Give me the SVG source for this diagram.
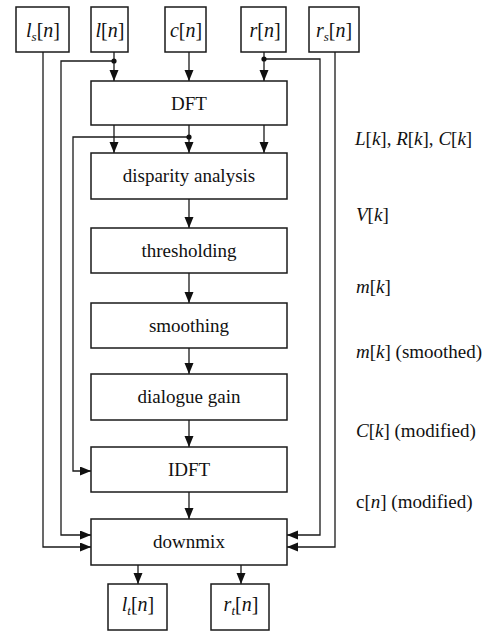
<svg xmlns="http://www.w3.org/2000/svg" width="499" height="631" viewBox="0 0 499 631">
  <style>
    .box { fill: #ffffff; stroke: #1a1a1a; stroke-width: 1.5; }
    .wire { fill: none; stroke: #1a1a1a; stroke-width: 1.3; }
    text { font-family: 'Liberation Serif', 'DejaVu Serif', 'Times New Roman', serif; fill: #111111; }
    .lbl { font-size: 19px; text-anchor: middle; }
    .sig { font-size: 20px; text-anchor: middle; }
    .note { font-size: 19px; }
    .it { font-style: italic; }
    .sub { font-style: italic; font-size: 13px; }
    .dot { fill: #111111; }
  </style>
  <defs>
    <marker id="arrow" markerUnits="userSpaceOnUse" markerWidth="11" markerHeight="10" refX="11" refY="4.5" orient="auto">
      <path d="M0,0 L11,4.5 L0,9 z" fill="#111111"/>
    </marker>
  </defs>

  <rect width="499" height="631" fill="#ffffff"/>

  <!-- connectors -->
  <g id="connectors">
    <!-- surround inputs straight to the downmix -->
    <path class="wire" d="M43,52 V547 H91" marker-end="url(#arrow)"/>
    <path class="wire" d="M335,52 V547 H287" marker-end="url(#arrow)"/>
    <!-- front inputs into the DFT -->
    <path class="wire" d="M114,52 V81" marker-end="url(#arrow)"/>
    <path class="wire" d="M189,52 V81" marker-end="url(#arrow)"/>
    <path class="wire" d="M264,52 V81" marker-end="url(#arrow)"/>
    <!-- l and r branch off to the downmix -->
    <path class="wire" d="M114,61 H61 V535 H91" marker-end="url(#arrow)"/>
    <circle class="dot" cx="114" cy="61" r="2.6"/>
    <path class="wire" d="M264,59 H320 V535 H287" marker-end="url(#arrow)"/>
    <circle class="dot" cx="264" cy="59" r="2.6"/>
    <!-- spectra into the disparity analysis -->
    <path class="wire" d="M114,125 V153" marker-end="url(#arrow)"/>
    <path class="wire" d="M189,125 V153" marker-end="url(#arrow)"/>
    <path class="wire" d="M264,125 V153" marker-end="url(#arrow)"/>
    <!-- C[k] bypass to the IDFT -->
    <path class="wire" d="M189,137 H73 V471 H91" marker-end="url(#arrow)"/>
    <circle class="dot" cx="189" cy="137" r="2.6"/>
    <!-- processing chain -->
    <path class="wire" d="M189,199 V228" marker-end="url(#arrow)"/>
    <path class="wire" d="M189,273 V303" marker-end="url(#arrow)"/>
    <path class="wire" d="M189,348 V374" marker-end="url(#arrow)"/>
    <path class="wire" d="M189,420 V447" marker-end="url(#arrow)"/>
    <path class="wire" d="M189,492 V519" marker-end="url(#arrow)"/>
    <!-- downmix outputs -->
    <path class="wire" d="M138,565 V584" marker-end="url(#arrow)"/>
    <path class="wire" d="M241,565 V584" marker-end="url(#arrow)"/>
  </g>

  <!-- input signals -->
  <g id="in-ls">
    <rect class="box" x="16" y="7" width="53" height="45"/>
    <text class="sig" x="43" y="37" font-family="Liberation Serif, serif"><tspan class="it">l</tspan><tspan class="sub" dy="4">s</tspan><tspan dy="-4">[</tspan><tspan class="it">n</tspan>]</text>
  </g>
  <g id="in-l">
    <rect class="box" x="91" y="7" width="37" height="45"/>
    <text class="sig" x="110" y="37" font-family="Liberation Serif, serif"><tspan class="it">l</tspan>[<tspan class="it">n</tspan>]</text>
  </g>
  <g id="in-c">
    <rect class="box" x="165" y="7" width="41" height="45"/>
    <text class="sig" x="186" y="37" font-family="Liberation Serif, serif"><tspan class="it">c</tspan>[<tspan class="it">n</tspan>]</text>
  </g>
  <g id="in-r">
    <rect class="box" x="241" y="7" width="45" height="45"/>
    <text class="sig" x="265" y="37" font-family="Liberation Serif, serif"><tspan class="it">r</tspan>[<tspan class="it">n</tspan>]</text>
  </g>
  <g id="in-rs">
    <rect class="box" x="309" y="7" width="50" height="45"/>
    <text class="sig" x="334" y="37" font-family="Liberation Serif, serif"><tspan class="it">r</tspan><tspan class="sub" dy="4">s</tspan><tspan dy="-4">[</tspan><tspan class="it">n</tspan>]</text>
  </g>

  <!-- processing blocks -->
  <g id="dft">
    <rect class="box" x="91" y="81" width="196" height="44"/>
    <text class="lbl" x="189" y="110" font-family="Liberation Serif, serif">DFT</text>
  </g>
  <g id="disparity">
    <rect class="box" x="91" y="153" width="196" height="46"/>
    <text class="lbl" x="189" y="182" font-family="Liberation Serif, serif">disparity analysis</text>
  </g>
  <g id="thresholding">
    <rect class="box" x="91" y="228" width="196" height="45"/>
    <text class="lbl" x="189" y="257" font-family="Liberation Serif, serif">thresholding</text>
  </g>
  <g id="smoothing">
    <rect class="box" x="91" y="303" width="196" height="45"/>
    <text class="lbl" x="189" y="332" font-family="Liberation Serif, serif">smoothing</text>
  </g>
  <g id="dialogue-gain">
    <rect class="box" x="91" y="374" width="196" height="46"/>
    <text class="lbl" x="189" y="403" font-family="Liberation Serif, serif">dialogue gain</text>
  </g>
  <g id="idft">
    <rect class="box" x="91" y="447" width="196" height="45"/>
    <text class="lbl" x="189" y="476" font-family="Liberation Serif, serif">IDFT</text>
  </g>
  <g id="downmix">
    <rect class="box" x="91" y="519" width="196" height="46"/>
    <text class="lbl" x="189" y="548" font-family="Liberation Serif, serif">downmix</text>
  </g>

  <!-- output signals -->
  <g id="out-lt">
    <rect class="box" x="108" y="584" width="59" height="46"/>
    <text class="sig" x="138" y="611" font-family="Liberation Serif, serif"><tspan class="it">l</tspan><tspan class="sub" dy="4">t</tspan><tspan dy="-4">[</tspan><tspan class="it">n</tspan>]</text>
  </g>
  <g id="out-rt">
    <rect class="box" x="211" y="584" width="58" height="46"/>
    <text class="sig" x="241" y="611" font-family="Liberation Serif, serif"><tspan class="it">r</tspan><tspan class="sub" dy="4">t</tspan><tspan dy="-4">[</tspan><tspan class="it">n</tspan>]</text>
  </g>

  <!-- signal annotations -->
  <g id="annotations">
    <text class="note" x="355" y="145"><tspan class="it">L</tspan>[<tspan class="it">k</tspan>], <tspan class="it">R</tspan>[<tspan class="it">k</tspan>], <tspan class="it">C</tspan>[<tspan class="it">k</tspan>]</text>
    <text class="note" x="356" y="221"><tspan class="it">V</tspan>[<tspan class="it">k</tspan>]</text>
    <text class="note" x="356" y="293"><tspan class="it">m</tspan>[<tspan class="it">k</tspan>]</text>
    <text class="note" x="356" y="358"><tspan class="it">m</tspan>[<tspan class="it">k</tspan>] (smoothed)</text>
    <text class="note" x="356" y="437"><tspan class="it">C</tspan>[<tspan class="it">k</tspan>] (modified)</text>
    <text class="note" x="356" y="508">c[<tspan class="it">n</tspan>] (modified)</text>
  </g>
</svg>
